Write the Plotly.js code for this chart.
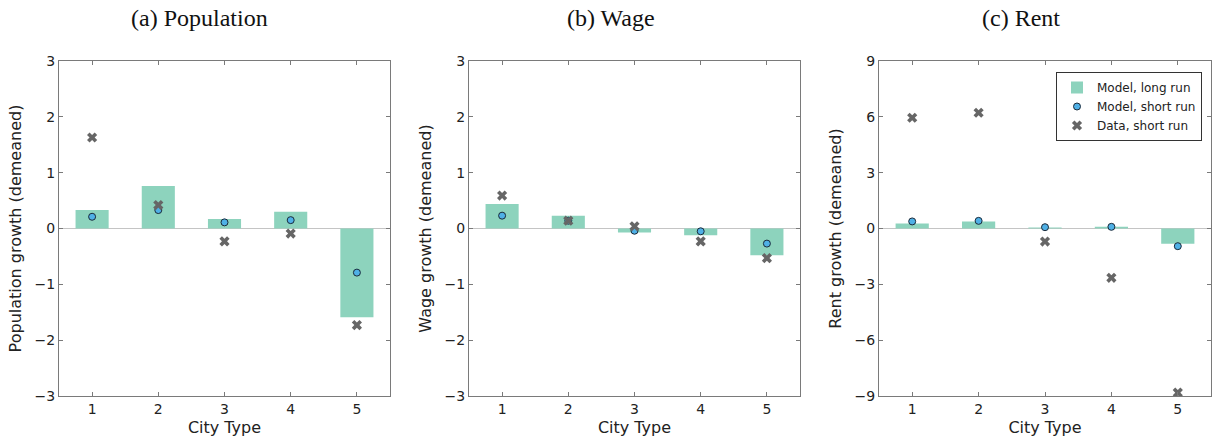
<!DOCTYPE html>
<html>
<head>
<meta charset="utf-8">
<script src="https://cdn.plot.ly/plotly-3.0.1.min.js"></script>
<style>
  html, body { margin: 0; padding: 0; background: #fff; }
  #chart { width: 1214px; height: 444px; }
</style>
</head>
<body>
<div id="chart"></div>
<script>
// City types on the horizontal axis
const cityTypes = [1, 2, 3, 4, 5];

// (a) Population growth, demeaned
const popLongRun  = [0.33, 0.76, 0.17, 0.30, -1.59];
const popShortRun = [0.21, 0.33, 0.11, 0.15, -0.79];
const popData     = [1.63, 0.42, -0.23, -0.09, -1.73];

// (b) Wage growth, demeaned
const wageLongRun  = [0.44, 0.23, -0.07, -0.12, -0.48];
const wageShortRun = [0.23, 0.14, -0.04, -0.05, -0.27];
const wageData     = [0.59, 0.14, 0.04, -0.23, -0.53];

// (c) Rent growth, demeaned
const rentLongRun  = [0.27, 0.38, 0.05, 0.09, -0.82];
const rentShortRun = [0.38, 0.41, 0.07, 0.09, -0.95];
const rentData     = [5.95, 6.22, -0.70, -2.65, -8.82];

const panelTitles = ['(a) Population', '(b) Wage', '(c) Rent'];
const yTitles = ['Population growth (demeaned)', 'Wage growth (demeaned)', 'Rent growth (demeaned)'];
const seriesNames = ['Model, long run', 'Model, short run', 'Data, short run'];

const BAR = '#8dd3bd';
const DOT = '#4fb0e6';
const CROSS = '#666666';
const AXIS = '#7a7a7a';

const panels = [
  {lr: popLongRun,  sr: popShortRun,  d: popData},
  {lr: wageLongRun, sr: wageShortRun, d: wageData},
  {lr: rentLongRun, sr: rentShortRun, d: rentData}
];

const traces = [];
panels.forEach((p, i) => {
  const xa = i === 0 ? 'x' : 'x' + (i + 1);
  const ya = i === 0 ? 'y' : 'y' + (i + 1);
  const legend = i === 2;
  traces.push({
    type: 'bar', x: cityTypes, y: p.lr, xaxis: xa, yaxis: ya,
    width: 0.5, marker: {color: BAR, line: {width: 0}},
    name: seriesNames[0], showlegend: legend, hoverinfo: 'y'
  });
  traces.push({
    type: 'scatter', mode: 'markers', x: cityTypes, y: p.sr, xaxis: xa, yaxis: ya,
    marker: {symbol: 'circle', size: 7, color: DOT, line: {color: '#1a2a3a', width: 1}},
    name: seriesNames[1], showlegend: legend, hoverinfo: 'y'
  });
  traces.push({
    type: 'scatter', mode: 'markers', x: cityTypes, y: p.d, xaxis: xa, yaxis: ya,
    marker: {symbol: 'x', size: 9, color: CROSS, line: {width: 0}},
    name: seriesNames[2], showlegend: legend, hoverinfo: 'y'
  });
});

const xDomains = [[59 / 1214, 390 / 1214], [469 / 1214, 800 / 1214], [879 / 1214, 1211 / 1214]];
const yDomain = [48 / 444, 383 / 444];
const tickFont = {family: 'DejaVu Sans', size: 14, color: '#222'};
const titleFont = {family: 'DejaVu Sans', size: 16, color: '#222'};

function xAxis(i) {
  return {
    domain: xDomains[i], range: [0.5, 5.5], anchor: i === 0 ? 'y' : 'y' + (i + 1),
    tickvals: cityTypes, ticks: 'inside', ticklen: 4, tickcolor: AXIS,
    showline: true, linecolor: AXIS, linewidth: 1, mirror: 'ticks',
    showgrid: false, zeroline: false, tickfont: tickFont,
    title: {text: 'City Type', font: titleFont, standoff: 6}
  };
}
function yAxis(i, range, dtick) {
  return {
    domain: yDomain, range: range, anchor: i === 0 ? 'x' : 'x' + (i + 1),
    dtick: dtick, ticks: 'inside', ticklen: 4, tickcolor: AXIS,
    showline: true, linecolor: AXIS, linewidth: 1, mirror: 'ticks',
    showgrid: false, zeroline: true, zerolinecolor: '#c4c4c4', zerolinewidth: 1.5,
    tickfont: tickFont, title: {text: yTitles[i], font: titleFont, standoff: 8}
  };
}

const titleCenters = [200, 611, 1021];
const annotations = panelTitles.map((t, i) => ({
  text: t, xref: 'paper', yref: 'paper', x: titleCenters[i] / 1214, y: 1 - 18 / 444,
  xanchor: 'center', yanchor: 'middle', showarrow: false,
  font: {family: 'Liberation Serif', size: 24, color: '#111'}
}));

const layout = {
  width: 1214, height: 444,
  margin: {l: 0, r: 0, t: 0, b: 0},
  paper_bgcolor: '#fff', plot_bgcolor: '#fff',
  showlegend: true,
  legend: {
    x: 1202 / 1214, y: 1 - 72 / 444, xanchor: 'right', yanchor: 'top',
    bordercolor: '#333', borderwidth: 1, bgcolor: '#fff',
    font: {family: 'DejaVu Sans', size: 12, color: '#222'},
    tracegroupgap: 0, itemwidth: 30
  },
  barmode: 'overlay',
  xaxis: xAxis(0), xaxis2: xAxis(1), xaxis3: xAxis(2),
  yaxis: yAxis(0, [-3, 3], 1), yaxis2: yAxis(1, [-3, 3], 1), yaxis3: yAxis(2, [-9, 9], 3),
  annotations: annotations
};

Plotly.newPlot('chart', traces, layout, {displayModeBar: false, staticPlot: true});
</script>
</body>
</html>
